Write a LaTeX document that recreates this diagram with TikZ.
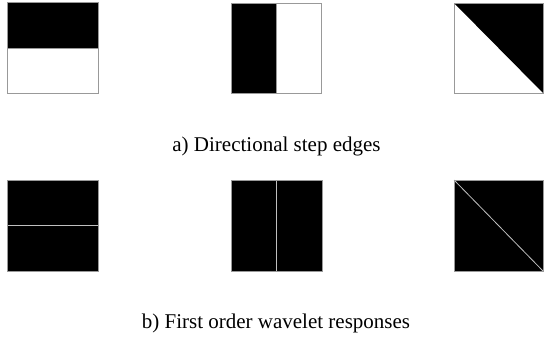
\documentclass[tikz,border=0pt]{standalone}
\usepackage{fontspec}
\setmainfont{Liberation Serif}
\begin{document}
\begin{tikzpicture}[x=1pt,y=-1pt,
  frame/.style={draw=black!40, line width=1pt},
  split/.style={draw=black!40, line width=1pt},
  thinsplit/.style={draw=black!25, line width=0.8pt},
  caption/.style={font=\fontsize{21}{25}\selectfont, anchor=base, inner sep=0pt}]
\useasboundingbox (0,0) rectangle (544,341);
% top row
\fill[black] (7,2) rectangle (98,48);
\draw[split] (7,48) -- (98,48);
\draw[frame] (7,2) rectangle (98,93);
\fill[black] (231,3) rectangle (276,93);
\draw[split] (276,3) -- (276,93);
\draw[frame] (231,3) rectangle (321,93);
\fill[black] (454,3) -- (543,3) -- (543,93) -- cycle;
\draw[frame] (454,3) rectangle (543,93);
\node[caption] (capa) at (276.5,151) {a) Directional step edges};
% bottom row
\fill[black] (7,180) rectangle (98,271);
\draw[thinsplit] (7,225.5) -- (98,225.5);
\draw[frame] (7,180) rectangle (98,271);
\fill[black] (231,180) rectangle (322,271);
\draw[thinsplit] (276,180) -- (276,271);
\draw[frame] (231,180) rectangle (322,271);
\fill[black] (454,180) rectangle (543,271);
\draw[thinsplit] (454,180) -- (543,271);
\draw[frame] (454,180) rectangle (543,271);
\node[caption] (capb) at (276,328) {b) First order wavelet responses};
\end{tikzpicture}
\end{document}
